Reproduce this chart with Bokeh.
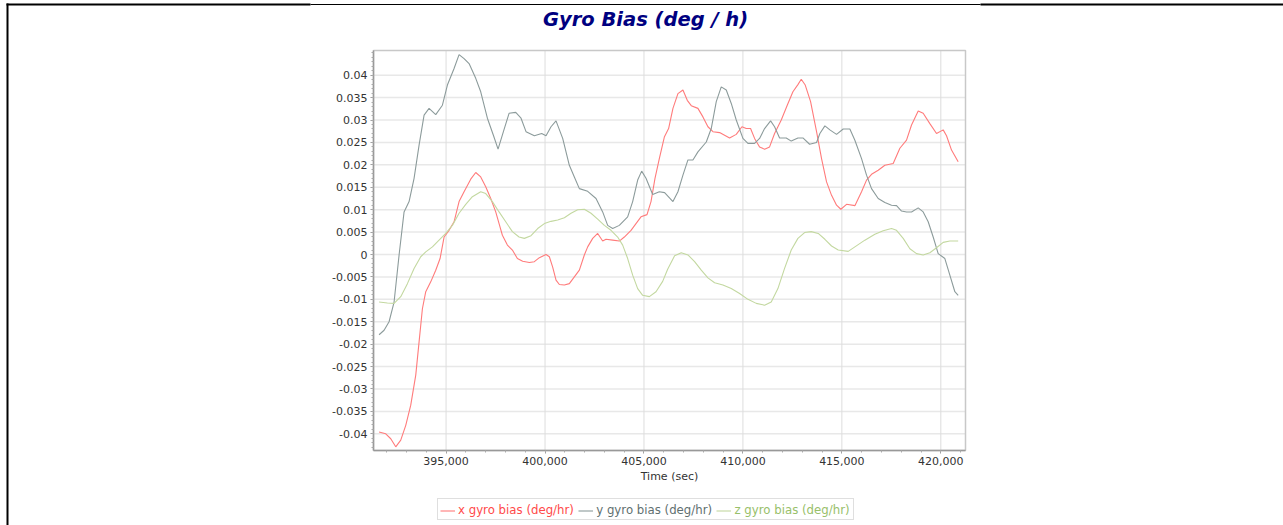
from bokeh.plotting import figure
from bokeh.models import (Range1d, FixedTicker, CustomJSTickFormatter, Label, LinearAxis,
                          Legend, LegendItem, BoxAnnotation)
from bokeh.embed import file_html
from bokeh.resources import INLINE

# ---------------- data ----------------
title_text = "Gyro Bias (deg / h)"
x_axis_label = "Time (sec)"
series_labels = ["x gyro bias (deg/hr)", "y gyro bias (deg/hr)", "z gyro bias (deg/hr)"]

x_ticks = [395000, 400000, 405000, 410000, 415000, 420000]
x_tick_labels = ["395,000", "400,000", "405,000", "410,000", "415,000", "420,000"]
y_ticks = [-0.04, -0.035, -0.03, -0.025, -0.02, -0.015, -0.01, -0.005, 0.0,
           0.005, 0.01, 0.015, 0.02, 0.025, 0.03, 0.035, 0.04]
y_tick_labels = ["-0.04", "-0.035", "-0.03", "-0.025", "-0.02", "-0.015", "-0.01", "-0.005", "0",
                 "0.005", "0.01", "0.015", "0.02", "0.025", "0.03", "0.035", "0.04"]

time_x = [391615, 391952, 392205, 392457, 392710, 392963, 393215, 393468, 393636, 393804,
          393973, 394225, 394478, 394697, 394899, 395152, 395404, 395657, 395909, 396246,
          396499, 396751, 397004, 397257, 397509, 397678, 397846, 398099, 398351, 398604,
          398872, 399208, 399461, 399714, 400051, 400219, 400387, 400556, 400724, 400977,
          401229, 401482, 401735, 401987, 402156, 402409, 402661, 402913, 403082, 403419,
          403755, 404008, 404345, 404597, 404850, 405153, 405355, 405557, 405776, 406029,
          406245, 406464, 406716, 406969, 407188, 407390, 407727, 407979, 408232, 408485,
          408821, 409074, 409327, 409663, 409950, 410168, 410387, 410589, 410842, 411095,
          411347, 411600, 411937, 412240, 412526, 412779, 412947, 413149, 413419, 413721,
          413973, 414226, 414479, 414731, 414950, 415236, 415657, 415994, 416246, 416499,
          416836, 417173, 417594, 417930, 418267, 418520, 418857, 419109, 419446, 419783,
          420120, 420288, 420541, 420877]
bias_x = [-0.0396, -0.0400, -0.0411, -0.0429, -0.0414, -0.0381, -0.0336, -0.0269, -0.0195, -0.0121,
          -0.0083, -0.0061, -0.0035, -0.0009, 0.0039, 0.0054, 0.0073, 0.0118, 0.0140, 0.0168,
          0.0183, 0.0173, 0.0151, 0.0125, 0.0095, 0.0069, 0.0043, 0.0021, 0.0010, -0.0009,
          -0.0015, -0.0018, -0.0016, -0.0007, 0.0000, -0.0005, -0.0028, -0.0057, -0.0067, -0.0068,
          -0.0065, -0.0050, -0.0035, -0.0001, 0.0017, 0.0036, 0.0047, 0.0030, 0.0034, 0.0032,
          0.0030, 0.0039, 0.0054, 0.0069, 0.0084, 0.0089, 0.0118, 0.0170, 0.0214, 0.0262,
          0.0281, 0.0326, 0.0359, 0.0367, 0.0344, 0.0332, 0.0326, 0.0307, 0.0285, 0.0274,
          0.0272, 0.0266, 0.0260, 0.0268, 0.0285, 0.0281, 0.0281, 0.0259, 0.0240, 0.0235,
          0.0240, 0.0270, 0.0300, 0.0333, 0.0363, 0.0379, 0.0391, 0.0378, 0.0341, 0.0274,
          0.0214, 0.0162, 0.0132, 0.0110, 0.0101, 0.0112, 0.0109, 0.0140, 0.0166, 0.0179,
          0.0188, 0.0199, 0.0203, 0.0237, 0.0255, 0.0289, 0.0320, 0.0315, 0.0292, 0.0270,
          0.0278, 0.0265, 0.0233, 0.0207]

time_y = [391615, 391868, 392120, 392373, 392626, 392878, 393131, 393383, 393636, 393889,
          394141, 394478, 394815, 395067, 395404, 395657, 395909, 396162, 396499, 396751,
          397088, 397391, 397627, 397897, 398183, 398520, 398788, 399040, 399461, 399832,
          400051, 400303, 400556, 400893, 401229, 401482, 401735, 402156, 402577, 402913,
          403166, 403419, 403755, 404176, 404429, 404682, 404884, 405103, 405440, 405776,
          406043, 406464, 406716, 406969, 407222, 407474, 407727, 408148, 408400, 408653,
          408905, 409158, 409411, 409663, 410000, 410253, 410589, 410842, 411095, 411398,
          411600, 411853, 412190, 412442, 412779, 413032, 413369, 413721, 413889, 414142,
          414394, 414731, 415067, 415404, 415657, 415994, 416246, 416499, 416836, 417173,
          417509, 417762, 418015, 418267, 418520, 418857, 419109, 419362, 419614, 419867,
          420204, 420456, 420709, 420877]
bias_y = [-0.0179, -0.0169, -0.0150, -0.0106, -0.0001, 0.0095, 0.0118, 0.0170, 0.0244, 0.0311,
          0.0326, 0.0312, 0.0333, 0.0378, 0.0415, 0.0446, 0.0437, 0.0426, 0.0393, 0.0363,
          0.0304, 0.0266, 0.0235, 0.0274, 0.0315, 0.0317, 0.0304, 0.0274, 0.0265, 0.0270,
          0.0265, 0.0285, 0.0298, 0.0259, 0.0199, 0.0173, 0.0147, 0.0141, 0.0125, 0.0095,
          0.0065, 0.0058, 0.0065, 0.0084, 0.0118, 0.0166, 0.0186, 0.0170, 0.0134, 0.0140,
          0.0138, 0.0118, 0.0140, 0.0177, 0.0211, 0.0211, 0.0229, 0.0251, 0.0281, 0.0341,
          0.0374, 0.0367, 0.0337, 0.0300, 0.0259, 0.0248, 0.0248, 0.0259, 0.0281, 0.0298,
          0.0285, 0.0260, 0.0260, 0.0253, 0.0260, 0.0260, 0.0246, 0.0250, 0.0270, 0.0287,
          0.0278, 0.0268, 0.0280, 0.0280, 0.0255, 0.0214, 0.0177, 0.0147, 0.0125, 0.0116,
          0.0110, 0.0109, 0.0097, 0.0095, 0.0095, 0.0104, 0.0095, 0.0073, 0.0039, 0.0002,
          -0.0009, -0.0046, -0.0083, -0.0091]

time_z = [391615, 392036, 392373, 392710, 393046, 393383, 393720, 393973, 394310, 394646,
          394983, 395320, 395657, 395994, 396330, 396751, 397004, 397341, 397678, 398015,
          398351, 398688, 398956, 399292, 399629, 399966, 400303, 400640, 400977, 401314,
          401650, 401987, 402324, 402661, 402998, 403335, 403671, 403924, 404176, 404429,
          404682, 404934, 405271, 405608, 405945, 406197, 406548, 406885, 407222, 407558,
          407895, 408232, 408569, 408990, 409411, 409832, 410253, 410674, 411095, 411431,
          411768, 412105, 412442, 412779, 413116, 413452, 413805, 414142, 414479, 414815,
          415320, 415657, 416162, 416667, 417088, 417509, 417762, 418099, 418436, 418773,
          419109, 419446, 419783, 420120, 420456, 420877]
bias_z = [-0.0106, -0.0108, -0.0109, -0.0094, -0.0065, -0.0031, -0.0005, 0.0006, 0.0017, 0.0032,
          0.0047, 0.0065, 0.0092, 0.0112, 0.0129, 0.0140, 0.0136, 0.0118, 0.0095, 0.0073,
          0.0051, 0.0039, 0.0036, 0.0042, 0.0058, 0.0069, 0.0074, 0.0077, 0.0082, 0.0092,
          0.0100, 0.0101, 0.0092, 0.0079, 0.0065, 0.0054, 0.0039, 0.0021, -0.0009, -0.0046,
          -0.0076, -0.0091, -0.0094, -0.0083, -0.0060, -0.0033, -0.0003, 0.0004, -0.0001, -0.0016,
          -0.0035, -0.0052, -0.0063, -0.0068, -0.0076, -0.0087, -0.0100, -0.0109, -0.0113, -0.0106,
          -0.0076, -0.0031, 0.0010, 0.0036, 0.0049, 0.0051, 0.0047, 0.0034, 0.0019, 0.0010,
          0.0007, 0.0017, 0.0032, 0.0045, 0.0053, 0.0058, 0.0054, 0.0036, 0.0013, 0.0002,
          -0.0001, 0.0004, 0.0015, 0.0027, 0.0030, 0.0030]

# ---------------- layout / styles ----------------
line_colors = ["#ff7b7b", "#8c9b9b", "#c3d8a0"]
text_colors = ["#ff4a4a", "#5f7070", "#98c06a"]
FONT = "DejaVu Sans"

W, H = 1283, 525
PX_L, PX_R, PX_T, PX_B = 373, 965, 50, 450          # plot area in canvas pixels
XLO, XHI = 391333, 421247                            # visible x extent of plot area
YLO, YHI = -0.04372, 0.04551                         # visible y extent of plot area
sx = (XHI - XLO) / (PX_R - PX_L)
sy = (YHI - YLO) / (PX_B - PX_T)
x_start = XLO - PX_L * sx
y_end = YHI + PX_T * sy

p = figure(width=W, height=H, output_backend="svg", toolbar_location=None, title=None,
           x_range=Range1d(x_start, x_start + W * sx), y_range=Range1d(y_end - H * sy, y_end),
           x_axis_location=None, y_axis_location=None, min_border=0,
           background_fill_color="white", border_fill_color="white")
p.outline_line_color = None
p.grid.grid_line_color = None

# grid lines (from the tick arrays) and plot-area outline
p.segment(x0=[XLO] * len(y_ticks), y0=y_ticks, x1=[XHI] * len(y_ticks), y1=y_ticks,
          line_color="#e8e8e8", line_width=1.5, level="underlay")
p.segment(x0=x_ticks, y0=[YLO] * len(x_ticks), x1=x_ticks, y1=[YHI] * len(x_ticks),
          line_color="#dddddd", line_width=1, level="underlay")
p.add_layout(BoxAnnotation(left=XLO, right=XHI, bottom=YLO, top=YHI, fill_alpha=0,
                           line_color="#c8c8c8", line_width=1.5, line_alpha=1, level="underlay"))

# axes
fmt_code = """
let best = 0, bd = Infinity;
for (let i = 0; i < tv.length; i++) {
  const d = Math.abs(tv[i] - tick);
  if (d < bd) { bd = d; best = i; }
}
return tl[best];
"""
x_minor = list(range(392000, 422000, 1000))
y_minor = [round(-0.043 + 0.001 * i, 3) for i in range(89)]

xaxis = LinearAxis(fixed_location=YLO, bounds=(XLO, XHI),
                   ticker=FixedTicker(ticks=x_ticks, minor_ticks=x_minor),
                   formatter=CustomJSTickFormatter(args=dict(tv=x_ticks, tl=x_tick_labels), code=fmt_code),
                   axis_label=x_axis_label)
yaxis = LinearAxis(fixed_location=XLO, bounds=(YLO, YHI),
                   ticker=FixedTicker(ticks=y_ticks, minor_ticks=y_minor),
                   formatter=CustomJSTickFormatter(args=dict(tv=y_ticks, tl=y_tick_labels), code=fmt_code))
for ax in (xaxis, yaxis):
    ax.major_label_text_font = FONT
    ax.major_label_text_font_size = "11px"
    ax.major_label_text_color = "#333333"
    ax.axis_line_color = "#999999"
    ax.axis_line_width = 1.5
    ax.major_tick_in = 0
    ax.major_tick_out = 3
    ax.minor_tick_in = 0
    ax.minor_tick_out = 2
    ax.major_tick_line_color = "#999999"
    ax.minor_tick_line_color = "#aaaaaa"
    ax.major_label_standoff = 3
xaxis.axis_label_text_font = FONT
xaxis.axis_label_text_font_size = "11px"
xaxis.axis_label_text_font_style = "normal"
xaxis.axis_label_text_color = "#333333"
xaxis.axis_label_standoff = 2
p.add_layout(xaxis, "below")
p.add_layout(yaxis, "left")

# ---------------- series ----------------
renderers = []
for t, b, c in ((time_x, bias_x, line_colors[0]), (time_y, bias_y, line_colors[1]),
                (time_z, bias_z, line_colors[2])):
    renderers.append(p.line(t, b, line_color=c, line_width=1.1))

# ---------------- title ----------------
p.add_layout(Label(x=645, y=H - 19, x_units="screen", y_units="screen", text=title_text,
                   text_font=FONT, text_font_style="bold italic", text_font_size="19.5px",
                   text_color="#000080", text_align="center", text_baseline="middle"))

# ---------------- page frame lines ----------------
def bar(l, r, t, b):
    return BoxAnnotation(left=l, right=r, top=H - t, bottom=H - b,
                         left_units="screen", right_units="screen",
                         top_units="screen", bottom_units="screen",
                         fill_color="black", fill_alpha=1, line_alpha=0)

p.add_layout(bar(6, 310, 3, 5))
p.add_layout(bar(310, 980, 3.5, 4.5))
p.add_layout(bar(980, W, 3, 5))
p.add_layout(bar(6, 8, 3, H))

# ---------------- legend ----------------
LFS = 11.75
leg_common = dict(orientation="horizontal", padding=3, spacing=4, glyph_width=15,
                  glyph_height=13, label_height=13, label_standoff=3,
                  label_text_font=FONT, label_text_font_size=f"{LFS}px", margin=0)
LX, LY = 437, H - 520
dummies = [p.line([], [], line_alpha=0) for _ in range(3)]
box_leg = Legend(items=[LegendItem(label=s, renderers=[d]) for s, d in zip(series_labels, dummies)],
                 location=(LX, LY), label_text_alpha=0, border_line_color="#c0c0c0",
                 border_line_width=1, background_fill_color="white", background_fill_alpha=1,
                 **leg_common)
p.add_layout(box_leg)

em_widths = [9.890, 9.890, 9.823]
off = 0.0
for i in range(3):
    leg = Legend(items=[LegendItem(label=series_labels[i], renderers=[renderers[i]])],
                 location=(LX + off, LY), label_text_color=text_colors[i],
                 border_line_alpha=0, background_fill_alpha=0, **leg_common)
    p.add_layout(leg)
    off += 15 + 3 + em_widths[i] * LFS + 4

open("out.html", "w").write(file_html(p, INLINE))
